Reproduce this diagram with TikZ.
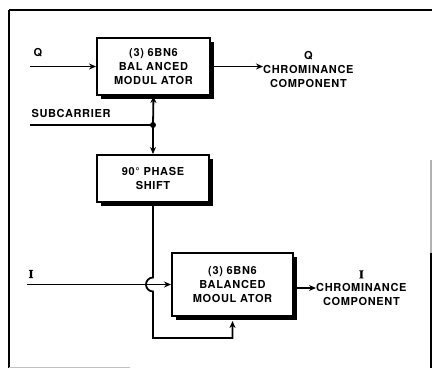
\documentclass[tikz,border=0pt]{standalone}
\usepackage{fontspec}
\setmainfont{TeX Gyre Heros}[LetterSpace=6]
\newfontfamily\serifI{Liberation Serif}[FakeBold=1.5]
\usetikzlibrary{arrows.meta,shadows}
\begin{document}
\begin{tikzpicture}[x=1pt,y=-1pt,
  font=\fontsize{11}{14}\selectfont\bfseries,
  blk/.style={draw, line width=2pt, fill=white, align=center, inner sep=0pt,
    drop shadow={shadow xshift=3.5pt, shadow yshift=-4pt, fill=black, opacity=1}},
  wire/.style={line width=1.8pt},
  arr/.style={wire, -{Stealth[length=7pt,width=6pt]}},
  lab/.style={inner sep=0pt, align=center},
  frame/.style={line width=2.5pt}]
\useasboundingbox (0,0) rectangle (432,368);
% frame
\draw[frame] (9,10) -- (432,10);
\draw[frame] (9,10) -- (9,368);
\draw[line width=1.5pt, gray!60] (431,160) -- (431,253);
\draw[line width=1.8pt] (431,253) -- (431,368);
\draw[line width=1pt, gray!50] (9,367) -- (130,367);
% blocks
\node[blk, minimum width=113pt, minimum height=57pt] (qmod) at (153.5,66.5)
  {(3) 6BN6\\BAL ANCED\\MODUL ATOR};
\node[blk, minimum width=112pt, minimum height=47pt, font=\fontsize{11}{13.5}\selectfont\bfseries] (ps) at (153,178.5)
  {90° PHASE\\SHIFT};
\node[blk, minimum width=121pt, minimum height=63pt] (imod) at (232.5,284.5)
  {(3) 6BN6\\BALANCED\\MOOUL ATOR};
% labels
\node[lab] (qlab) at (38,53) {Q};
\node[lab] (sublab) at (71,113) {SUBCARRIER};
\node[lab] (ilab) at (31,274) {\serifI\fontsize{12}{14}\selectfont I};
\node[lab, anchor=west] (qout) at (263,69) {Q\\CHROMINANCE\\COMPONENT};
\node[lab, anchor=west, font=\fontsize{11}{13.5}\selectfont\bfseries] (iout) at (316,288) {{\serifI\fontsize{12}{13.5}\selectfont I}\\CHROMINANCE\\COMPONENT};
% coordinates
\coordinate (qin) at (30,66.5);
\coordinate (subin) at (30,125);
\coordinate (junc) at (153,125);
\coordinate (iin) at (27,284.5);
\coordinate (hopT) at (153,277.5);
\coordinate (ibend) at (153,338);
% connectors
\draw[arr] (qin) -- (qmod.west);
\draw[arr] (qmod.east) -- (qout.west |- qmod.east);
\draw[wire] (subin) -- (junc);
\draw[arr] (junc) -- (qmod.south);
\draw[arr] (junc) -- (ps.north);
\fill (junc) circle[radius=3pt];
\draw[arr] (iin) -- (imod.west);
\draw[arr] (ps.south) -- (hopT) arc[start angle=90, end angle=270, radius=7pt] -- (ibend) -| ([yshift=-4pt]imod.south);
\draw[arr] (imod.east |- iout.west) -- (iout.west);
\end{tikzpicture}
\end{document}
